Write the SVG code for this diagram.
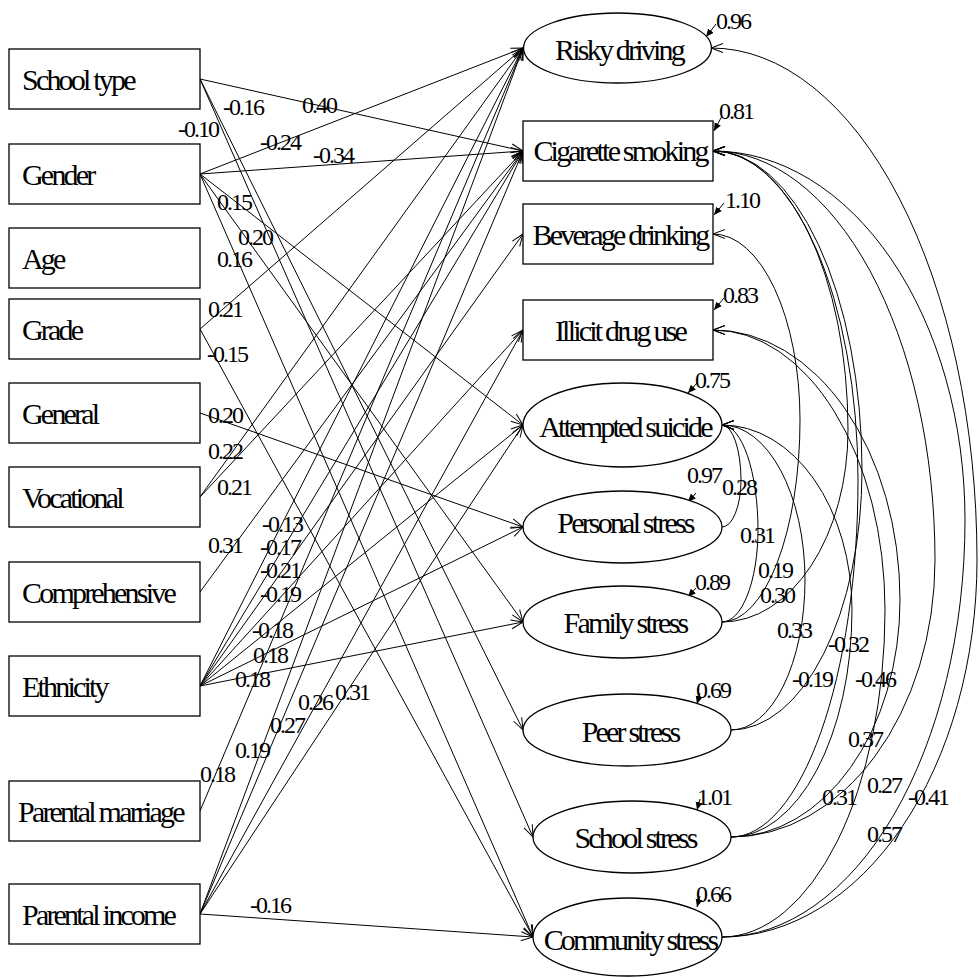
<svg xmlns="http://www.w3.org/2000/svg" width="980" height="978" viewBox="0 0 980 978">
<defs>
<style>
.n{fill:#fff;stroke:#000;stroke-width:1.3}
.t{font-family:"Times New Roman","Liberation Serif","DejaVu Serif",serif;font-size:30px;letter-spacing:-2.8px;fill:#000}
.c{text-anchor:middle}
.v{font-family:"Times New Roman","Liberation Serif","DejaVu Serif",serif;font-size:24px;letter-spacing:-2px;fill:#000}
.l{fill:none;stroke:#000;stroke-width:1;marker-end:url(#a)}
.e{fill:none;stroke:#000;stroke-width:1;marker-end:url(#f)}
</style>
<marker id="a" markerUnits="userSpaceOnUse" markerWidth="16" markerHeight="12" refX="13" refY="6" orient="auto"><path d="M1,1.5 L13,6 L1,10.5" fill="none" stroke="#000" stroke-width="1"/></marker>
<marker id="f" markerUnits="userSpaceOnUse" markerWidth="9" markerHeight="9" refX="8" refY="4.5" orient="auto"><path d="M0,1 L8,4.5 L0,8 z" fill="#000"/></marker>
</defs>
<rect width="980" height="978" fill="#fff"/>

<g id="connectors">
<line class="l" x1="200" y1="79" x2="523" y2="151"/>
<line class="l" x1="200" y1="79" x2="523" y2="730"/>
<line class="l" x1="200" y1="79" x2="533" y2="837"/>
<line class="l" x1="200" y1="174" x2="523" y2="48"/>
<line class="l" x1="200" y1="174" x2="523" y2="151"/>
<line class="l" x1="200" y1="174" x2="523" y2="425"/>
<line class="l" x1="200" y1="174" x2="523" y2="622"/>
<line class="l" x1="200" y1="174" x2="533" y2="937"/>
<line class="l" x1="200" y1="329" x2="523" y2="48"/>
<line class="l" x1="200" y1="329" x2="533" y2="937"/>
<line class="l" x1="200" y1="413" x2="523" y2="527"/>
<line class="l" x1="200" y1="497" x2="523" y2="48"/>
<line class="l" x1="200" y1="497" x2="523" y2="151"/>
<line class="l" x1="200" y1="592" x2="523" y2="151"/>
<line class="l" x1="200" y1="686" x2="523" y2="48"/>
<line class="l" x1="200" y1="686" x2="523" y2="151"/>
<line class="l" x1="200" y1="686" x2="523" y2="234"/>
<line class="l" x1="200" y1="686" x2="523" y2="330"/>
<line class="l" x1="200" y1="686" x2="523" y2="425"/>
<line class="l" x1="200" y1="686" x2="523" y2="527"/>
<line class="l" x1="200" y1="686" x2="523" y2="622"/>
<line class="l" x1="200" y1="811" x2="523" y2="48"/>
<line class="l" x1="200" y1="914" x2="523" y2="48"/>
<line class="l" x1="200" y1="914" x2="523" y2="151"/>
<line class="l" x1="200" y1="914" x2="523" y2="330"/>
<line class="l" x1="200" y1="914" x2="523" y2="425"/>
<line class="l" x1="200" y1="914" x2="533" y2="937"/>
<path class="l" d="M722,527 A19,47 0 0 0 741,480 A19,55 0 0 0 722,425"/>
<path class="l" d="M722,622 A36,92 0 0 0 758,530 A36,105 0 0 0 722,425"/>
<path class="l" d="M722,622 A78,202 0 0 0 800,420 A87,186 0 0 0 713,234"/>
<path class="l" d="M722,622 A126,192 0 0 0 848,430 A135,279 0 0 0 713,151"/>
<path class="l" d="M731,730 A74,150 0 0 0 805,580 A83,155 0 0 0 722,425"/>
<path class="l" d="M731,730 A131,260 0 0 0 862,470 A149,319 0 0 0 713,151"/>
<path class="l" d="M731,837 A121,227 0 0 0 852,610 A130,185 0 0 0 722,425"/>
<path class="l" d="M731,837 A127,357 0 0 0 858,480 A145,329 0 0 0 713,151"/>
<path class="l" d="M731,837 A169,237 0 0 0 900,600 A187,270 0 0 0 713,330"/>
<path class="l" d="M731,837 A204,277 0 0 0 935,560 A222,409 0 0 0 713,151"/>
<path class="l" d="M722,937 A163,327 0 0 0 885,610 A172,280 0 0 0 713,330"/>
<path class="l" d="M722,937 A243,417 0 0 0 965,520 A252,369 0 0 0 713,151"/>
<path class="l" d="M722,937 A255,377 0 0 0 977,560 A266,512 0 0 0 711,48"/>
<line class="e" x1="716" y1="24" x2="706" y2="37"/>
<line class="e" x1="722" y1="116" x2="714" y2="131"/>
<line class="e" x1="724" y1="203" x2="714" y2="215"/>
<line class="e" x1="724" y1="298" x2="714" y2="310"/>
<line class="e" x1="697" y1="383" x2="688" y2="393"/>
<line class="e" x1="696" y1="493" x2="688" y2="502"/>
<line class="e" x1="696" y1="588" x2="688" y2="597"/>
<line class="e" x1="700" y1="693" x2="697" y2="704"/>
<line class="e" x1="700" y1="799" x2="697" y2="810"/>
<line class="e" x1="700" y1="896" x2="697" y2="907"/>
</g>

<g id="labels">
<text class="v" x="302" y="113">0.40</text>
<text class="v" x="223" y="115">-0.16</text>
<text class="v" x="178" y="137">-0.10</text>
<text class="v" x="260" y="150">-0.24</text>
<text class="v" x="313" y="163">-0.34</text>
<text class="v" x="217" y="210">0.15</text>
<text class="v" x="238" y="245">0.20</text>
<text class="v" x="217" y="267">0.16</text>
<text class="v" x="208" y="317">0.21</text>
<text class="v" x="207" y="362">-0.15</text>
<text class="v" x="208" y="423">0.20</text>
<text class="v" x="208" y="459">0.22</text>
<text class="v" x="217" y="495">0.21</text>
<text class="v" x="208" y="553">0.31</text>
<text class="v" x="262" y="532">-0.13</text>
<text class="v" x="260" y="555">-0.17</text>
<text class="v" x="260" y="578">-0.21</text>
<text class="v" x="260" y="602">-0.19</text>
<text class="v" x="252" y="638">-0.18</text>
<text class="v" x="253" y="663">0.18</text>
<text class="v" x="235" y="687">0.18</text>
<text class="v" x="298" y="710">0.26</text>
<text class="v" x="335" y="700">0.31</text>
<text class="v" x="270" y="733">0.27</text>
<text class="v" x="235" y="758">0.19</text>
<text class="v" x="200" y="782">0.18</text>
<text class="v" x="250" y="913">-0.16</text>
<text class="v" x="716" y="29">0.96</text>
<text class="v" x="719" y="119">0.81</text>
<text class="v" x="725" y="208">1.10</text>
<text class="v" x="723" y="303">0.83</text>
<text class="v" x="695" y="388">0.75</text>
<text class="v" x="687" y="483">0.97</text>
<text class="v" x="722" y="495">0.28</text>
<text class="v" x="740" y="543">0.31</text>
<text class="v" x="758" y="578">0.19</text>
<text class="v" x="695" y="590">0.89</text>
<text class="v" x="760" y="603">0.30</text>
<text class="v" x="777" y="638">0.33</text>
<text class="v" x="828" y="652">-0.32</text>
<text class="v" x="792" y="687">-0.19</text>
<text class="v" x="855" y="687">-0.46</text>
<text class="v" x="696" y="698">0.69</text>
<text class="v" x="848" y="747">0.37</text>
<text class="v" x="867" y="793">0.27</text>
<text class="v" x="697" y="805">1.01</text>
<text class="v" x="822" y="805">0.31</text>
<text class="v" x="908" y="805">-0.41</text>
<text class="v" x="867" y="842">0.57</text>
<text class="v" x="696" y="902">0.66</text>
</g>

<g id="school-type"><rect class="n" x="9" y="49" width="191" height="60"/><text class="t" x="22" y="90">School type</text></g>
<g id="gender"><rect class="n" x="9" y="144" width="191" height="60"/><text class="t" x="22" y="185">Gender</text></g>
<g id="age"><rect class="n" x="9" y="228" width="191" height="60"/><text class="t" x="22" y="269">Age</text></g>
<g id="grade"><rect class="n" x="9" y="299" width="191" height="60"/><text class="t" x="22" y="340">Grade</text></g>
<g id="general"><rect class="n" x="9" y="383" width="191" height="60"/><text class="t" x="22" y="424">General</text></g>
<g id="vocational"><rect class="n" x="9" y="467" width="191" height="60"/><text class="t" x="22" y="508">Vocational</text></g>
<g id="comprehensive"><rect class="n" x="9" y="562" width="191" height="60"/><text class="t" x="22" y="603">Comprehensive</text></g>
<g id="ethnicity"><rect class="n" x="9" y="656" width="191" height="60"/><text class="t" x="22" y="697">Ethnicity</text></g>
<g id="parental-marriage"><rect class="n" x="9" y="781" width="191" height="60"/><text class="t" x="18" y="822">Parental marriage</text></g>
<g id="parental-income"><rect class="n" x="9" y="884" width="191" height="60"/><text class="t" x="22" y="925">Parental income</text></g>

<g id="risky-driving"><ellipse class="n" cx="617.5" cy="48" rx="94" ry="35"/><text class="t c" x="619" y="60">Risky driving</text></g>
<g id="cigarette-smoking"><rect class="n" x="523" y="121" width="190" height="60"/><text class="t c" x="620" y="161">Cigarette smoking</text></g>
<g id="beverage-drinking"><rect class="n" x="523" y="204" width="190" height="60"/><text class="t c" x="620" y="245">Beverage drinking</text></g>
<g id="illicit-drug-use"><rect class="n" x="523" y="300" width="190" height="60"/><text class="t c" x="620" y="341">Illicit drug use</text></g>
<g id="attempted-suicide"><ellipse class="n" cx="622.5" cy="425" rx="99.5" ry="42"/><text class="t c" x="625" y="437">Attempted suicide</text></g>
<g id="personal-stress"><ellipse class="n" cx="622.5" cy="527" rx="99.5" ry="36"/><text class="t c" x="625" y="533">Personal stress</text></g>
<g id="family-stress"><ellipse class="n" cx="622.5" cy="622" rx="99.5" ry="36"/><text class="t c" x="625" y="633">Family stress</text></g>
<g id="peer-stress"><ellipse class="n" cx="627" cy="730" rx="104" ry="36"/><text class="t c" x="630" y="742">Peer stress</text></g>
<g id="school-stress"><ellipse class="n" cx="632" cy="837" rx="99" ry="36"/><text class="t c" x="635" y="848">School stress</text></g>
<g id="community-stress"><ellipse class="n" cx="627.5" cy="937" rx="94.5" ry="39"/><text class="t c" x="630" y="950">Community stress</text></g>
</svg>
